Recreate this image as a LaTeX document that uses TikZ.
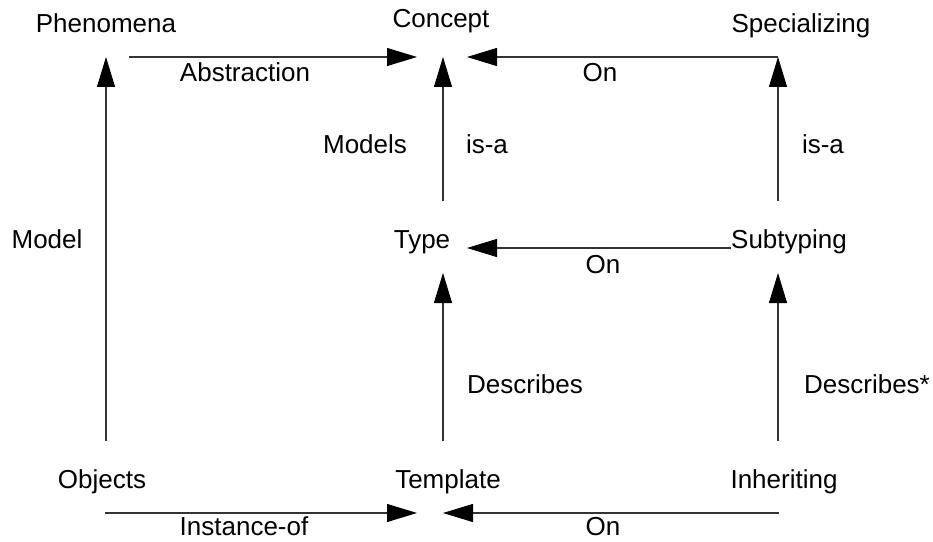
\documentclass[tikz,border=0pt]{standalone}
\usepackage{fontspec}
\setmainfont{Liberation Sans}
\usetikzlibrary{arrows.meta}
\tikzset{
  word/.style={anchor=base, inner sep=0pt, font=\fontsize{19.5}{23}\selectfont},
  rel/.style={line width=0.8pt, draw=black!80, -{Triangle[length=22.5pt, width=13.5pt, color=black]}}
}

\begin{document}
\begin{tikzpicture}[x=0.75pt, y=-0.75pt]
			%%%%% START %%%%%
			\useasboundingbox (0, 0) rectangle (933, 542);
			
			% the three levels
			\node[word] (phenomena) at (106, 33) {Phenomena};
			\node[word] (concept) at (441, 28) {Concept};
			\node[word] (specializing) at (801, 33) {Specializing};
			
			\node[word] (model) at (47, 248) {Model};
			\node[word] (type) at (422, 248) {Type};
			\node[word] (subtyping) at (789, 248) {Subtyping};
			
			\node[word] (objects) at (102, 488) {Objects};
			\node[word] (template) at (448, 488) {Template};
			\node[word] (inheriting) at (784, 488) {Inheriting};
			
			% labels on the arrows
			\node[word] (abstraction) at (245, 82) {Abstraction};
			\node[word] (onTop) at (600, 82) {On};
			\node[word] (models) at (365, 153) {Models};
			\node[word] (isaLeft) at (487, 153) {is-a};
			\node[word] (isaRight) at (823, 153) {is-a};
			\node[word] (onMid) at (603, 273) {On};
			\node[word] (describes) at (525, 393) {Describes};
			\node[word] (describesStar) at (867, 393) {Describes*};
			\node[word] (instanceOf) at (244, 535) {Instance-of};
			\node[word] (onBottom) at (603, 535) {On};
			
			% arrow ends
			\coordinate (absFrom) at (129, 57);
			\coordinate (absTo) at (417, 57);
			\coordinate (conceptIn) at (467, 57);
			\coordinate (specTop) at (778, 57);
			\coordinate (phenIn) at (106, 57);
			\coordinate (conceptUp) at (443, 57);
			
			\coordinate (typeOut) at (443, 201);
			\coordinate (subOut) at (778, 201);
			\coordinate (typeIn) at (467, 248);
			\coordinate (subLeft) at (731, 248);
			\coordinate (typeUp) at (443, 273);
			\coordinate (subUp) at (778, 273);
			
			\coordinate (objOut) at (106, 441);
			\coordinate (tmplOut) at (443, 441);
			\coordinate (inhOut) at (778, 441);
			\coordinate (instFrom) at (105, 513);
			\coordinate (instTo) at (417, 513);
			\coordinate (tmplIn) at (443, 513);
			\coordinate (inhLeft) at (779, 513);
			
			% top row
			\draw[rel] (absFrom) -- (absTo);
			\draw[rel] (specTop) -- (conceptIn);
			
			% verticals
			\draw[rel] (objOut) -- (phenIn);
			\draw[rel] (typeOut) -- (conceptUp);
			\draw[rel] (subOut) -- (specTop);
			\draw[rel] (tmplOut) -- (typeUp);
			\draw[rel] (inhOut) -- (subUp);
			
			% middle and bottom rows
			\draw[rel] (subLeft) -- (typeIn);
			\draw[rel] (instFrom) -- (instTo);
			\draw[rel] (inhLeft) -- (tmplIn);
			
			%%%%% END %%%%%
\end{tikzpicture}
\end{document}
